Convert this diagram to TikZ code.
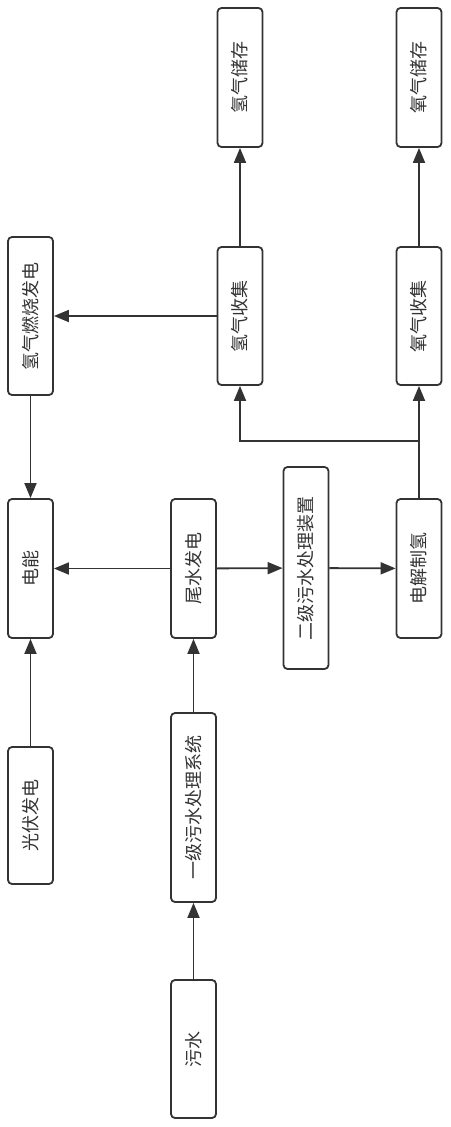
\documentclass[tikz,border=0pt]{standalone}
\usepackage{fontspec}
\newfontfamily\cjk{Noto Sans CJK SC}
\usetikzlibrary{arrows.meta}
\definecolor{ln}{HTML}{333333}
\begin{document}
\begin{tikzpicture}[x=1pt,y=-1pt,
  box/.style={draw=ln, line width=1.8pt, rounded corners=4pt, fill=white, inner sep=0pt,
    minimum width=45pt, font=\cjk\fontsize{18}{18}\selectfont, text=ln},
  arr/.style={draw=ln, line width=1.8pt, -{Triangle[length=15pt,width=12pt]}}]
\useasboundingbox (0,0) rectangle (450,1127);
\node[box, minimum height=139pt] (hs) at (240,77.5) {\rotatebox{90}{氢气储存}};
\node[box, minimum height=139pt] (os) at (419,77.5) {\rotatebox{90}{氧气储存}};
\node[box, minimum height=158pt] (hr) at (30.5,316) {\rotatebox{90}{氢气燃烧发电}};
\node[box, minimum height=138pt] (hc) at (240,316) {\rotatebox{90}{氢气收集}};
\node[box, minimum height=138pt] (oc) at (419,316) {\rotatebox{90}{氧气收集}};
\node[box, minimum height=139pt] (dn) at (30.5,568.5) {\rotatebox{90}{电能}};
\node[box, minimum height=139pt] (tw) at (193.5,568.5) {\rotatebox{90}{尾水发电}};
\node[box, minimum height=202pt] (ej) at (306,568) {\rotatebox{90}{二级污水处理装置}};
\node[box, minimum height=139pt] (dj) at (419,568.5) {\rotatebox{90}{电解制氢}};
\node[box, minimum height=137pt] (gf) at (30.5,815.5) {\rotatebox{90}{光伏发电}};
\node[box, minimum height=189pt] (yj) at (193.5,807.5) {\rotatebox{90}{一级污水处理系统}};
\node[box, minimum height=138pt] (ws) at (193.5,1049) {\rotatebox{90}{污水}};
\coordinate (j) at (419,441);
\draw[arr] (hc) -- (hs);
\draw[arr] (oc) -- (os);
\draw[arr] (hc) -- (hr);
\draw[arr] (hr) -- (dn);
\draw[arr] (gf) -- (dn);
\draw[arr] (tw) -- (dn);
\draw[arr] (tw) -- (ej);
\draw[arr] (ej) -- (dj);
\draw[arr] (yj) -- (tw);
\draw[arr] (ws) -- (yj);
\draw[arr] (dj) -- (oc);
\draw[arr] (j) -| (hc);
\end{tikzpicture}
\end{document}
